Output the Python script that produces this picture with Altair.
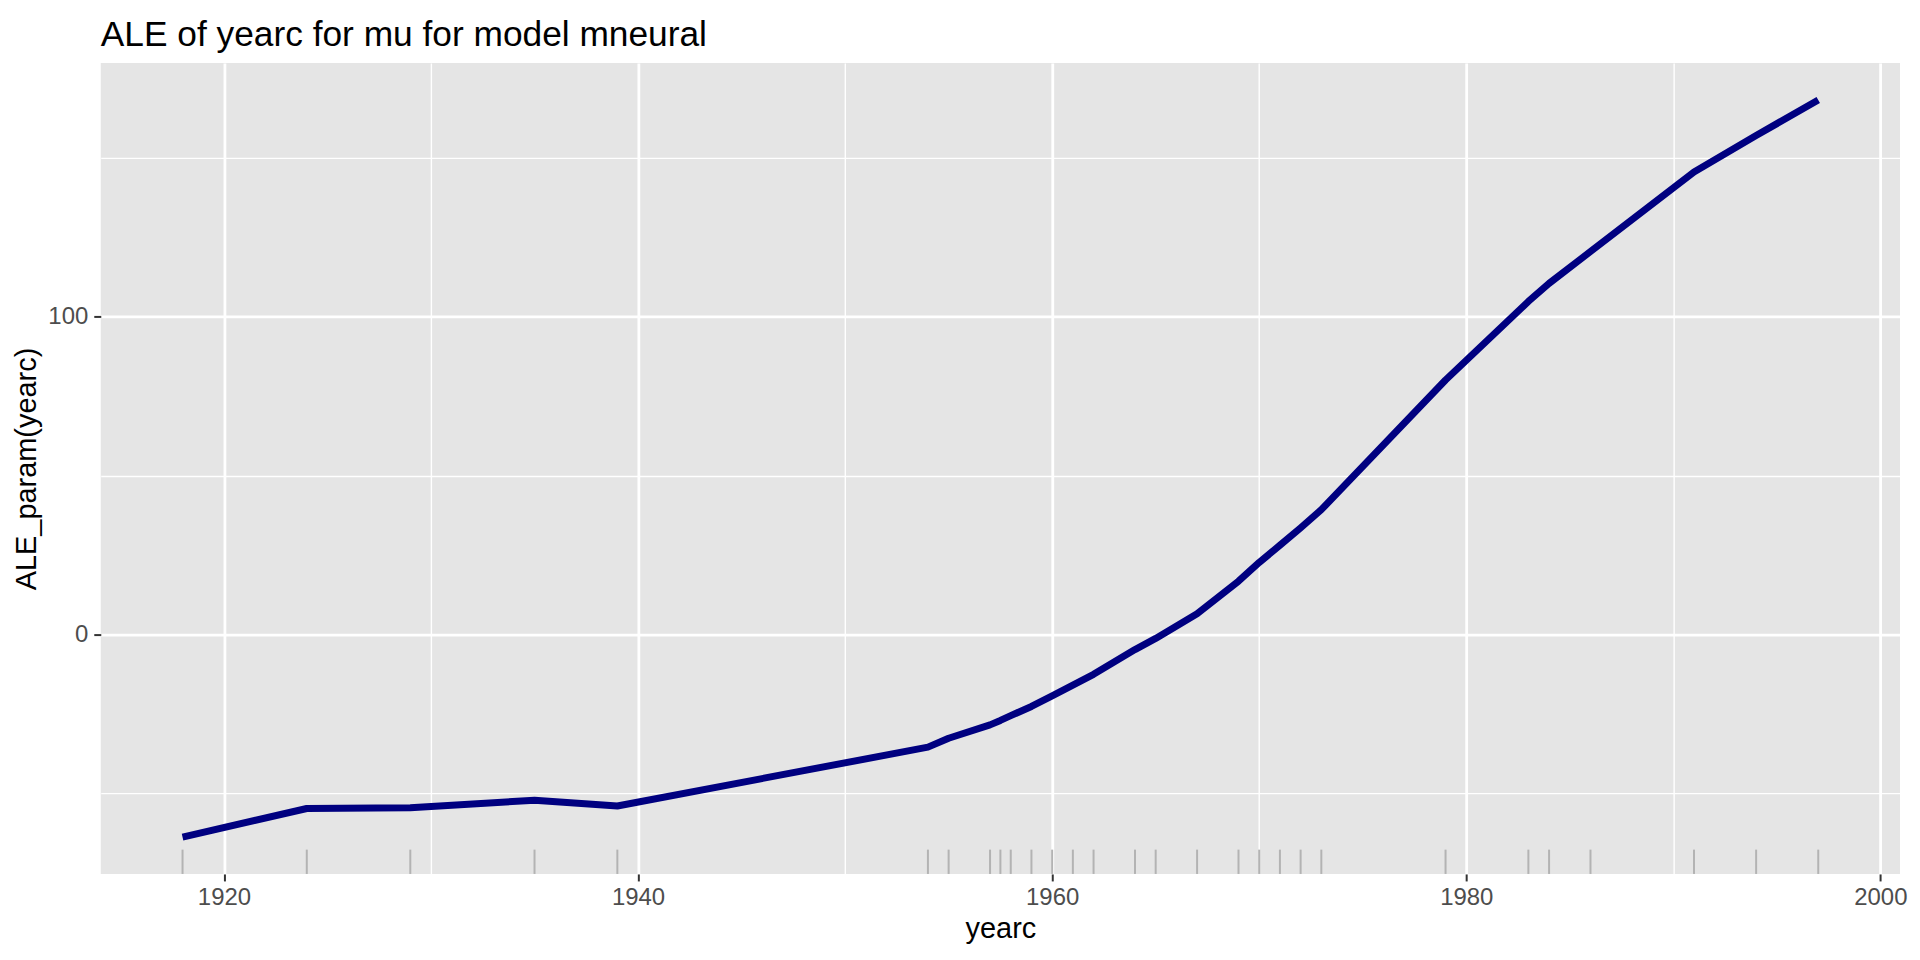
import altair as alt
import pandas as pd

# ALE curve (grid points)
years = [1918, 1924, 1929, 1935, 1939, 1954, 1955, 1957, 1957.5, 1958, 1959,
         1960, 1961, 1962, 1964, 1965, 1967, 1969, 1970, 1971, 1972, 1973,
         1979, 1983, 1984, 1986, 1991, 1994, 1997]
ale = [-63.7, -54.7, -54.5, -52.1, -53.9, -35.4, -32.6, -28.4, -27.0, -25.5, -22.6,
       -19.3, -15.9, -12.5, -4.7, -1.2, 6.6, 16.8, 22.7, 28.1, 33.6, 39.3,
       80.1, 104.8, 110.5, 120.5, 145.5, 157.0, 168.2]
# rug positions
rug_years = [1918, 1924, 1929, 1935, 1939, 1954, 1955, 1957, 1957.5, 1958, 1959,
             1960, 1961, 1962, 1964, 1965, 1967, 1969, 1970, 1971, 1972, 1973,
             1979, 1983, 1984, 1986, 1991, 1994, 1997]

x_ticks = [1920, 1930, 1940, 1950, 1960, 1970, 1980, 1990, 2000]
y_ticks = [-50, 0, 50, 100, 150]

title_text = "ALE of yearc for mu for model mneural"
x_title = "yearc"
y_title = "ALE_param(yearc)"

df_line = pd.DataFrame({"yearc": years, "ale": ale})
df_rug = pd.DataFrame({"yearc": rug_years})

# ggplot-like 5% expansion
xmin, xmax = min(years + rug_years), max(years + rug_years)
ymin, ymax = min(ale), max(ale)
xd = [xmin - 0.05 * (xmax - xmin), xmax + 0.05 * (xmax - xmin)]
yd = [ymin - 0.05 * (ymax - ymin), ymax + 0.05 * (ymax - ymin)]

W, H = 1804, 813
FONT = "Liberation Sans"

x_axis = alt.Axis(
    values=x_ticks, format="d",
    labelExpr="datum.value % 20 === 0 ? datum.label : ''",
    grid=True, gridColor="white",
    gridWidth={"condition": {"test": "datum.value % 20 === 0", "value": 2.8}, "value": 1.4},
    tickOpacity={"condition": {"test": "datum.value % 20 === 0", "value": 1}, "value": 0},
    tickColor="#333333", tickWidth=2, tickSize=7,
    labelFont=FONT, labelFontSize=24, labelColor="#4d4d4d", labelPadding=5,
    title=x_title, titleFont=FONT, titleFontSize=29, titleFontWeight="normal",
    titleColor="black", titlePadding=5, domain=False,
)
y_axis = alt.Axis(
    values=y_ticks,
    labelExpr="datum.value % 100 === 0 ? datum.label : ''",
    grid=True, gridColor="white",
    gridWidth={"condition": {"test": "datum.value % 100 === 0", "value": 2.8}, "value": 1.4},
    tickOpacity={"condition": {"test": "datum.value % 100 === 0", "value": 1}, "value": 0},
    tickColor="#333333", tickWidth=2, tickSize=7,
    labelFont=FONT, labelFontSize=24, labelColor="#4d4d4d", labelPadding=6,
    title=y_title, titleFont=FONT, titleFontSize=29, titleFontWeight="normal",
    titleColor="black", titlePadding=6, domain=False,
)

xenc = alt.X("yearc:Q", scale=alt.Scale(domain=xd, nice=False, zero=False), axis=x_axis)
yenc = alt.Y("ale:Q", scale=alt.Scale(domain=yd, nice=False, zero=False), axis=y_axis)

rug = alt.Chart(df_rug).mark_rule(color="#b3b3b3", strokeWidth=2).encode(
    x=xenc,
    y=alt.value(H - 0.03 * H),
    y2=alt.value(H),
)

line = alt.Chart(df_line).mark_line(
    color="#000080", strokeWidth=7, strokeCap="butt", strokeJoin="round"
).encode(x=xenc, y=yenc)

chart = alt.layer(rug, line).properties(
    width=W, height=H,
    background="white",
    title=alt.TitleParams(
        text=title_text, anchor="start", frame="group", font=FONT,
        fontSize=35.4, fontWeight="normal", color="black", offset=10,
    ),
    autosize=alt.AutoSizeParams(type="none"),
    padding={"left": 93, "top": 54, "right": 12, "bottom": 72},
).configure_view(fill="#E5E5E5", strokeWidth=0)

chart.save("out.html", embed_options={"renderer": "svg", "actions": False})
